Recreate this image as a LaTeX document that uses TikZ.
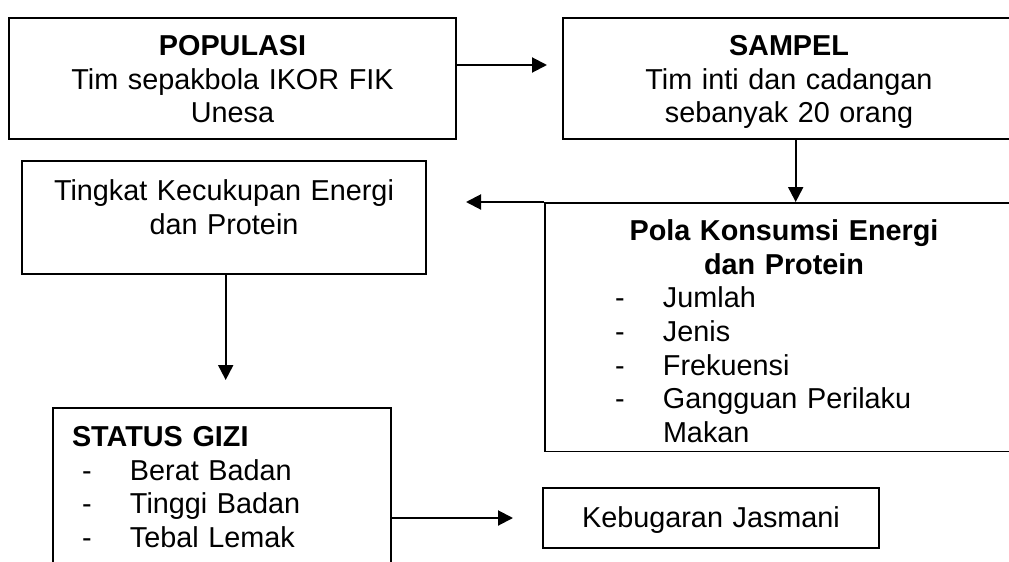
\documentclass[tikz,border=0pt]{standalone}
\usepackage{fontspec}
\setmainfont{Liberation Sans}
\usepackage{tikz}
\usetikzlibrary{arrows.meta, positioning}
% dash item with fixed indent
\newcommand{\poin}[2]{\hspace*{#1}\makebox[#2][l]{-}}

\begin{document}
\begin{tikzpicture}[x=1pt, y=-1pt,
  box/.style={draw=black, line width=1.5pt, anchor=north, inner sep=0pt,
              font=\fontsize{28.8}{33.6}\selectfont},
  arr/.style={-{Triangle[length=15pt, width=15pt]}, line width=2pt}]
\clip (0,0) rectangle (1009,562);
% Populasi box
\node[box, text width=447pt, align=center, text height=38pt, text depth=83pt]
  (pop) at (232.5,17) {\textbf{POPULASI}\\Tim sepakbola IKOR FIK\\Unesa};
% Sampel box
\node[box, text width=452pt, align=center, text height=38pt, text depth=83pt]
  (samp) at (789,17) {\textbf{SAMPEL}\\Tim inti dan cadangan\\sebanyak 20 orang};
% Tingkat kecukupan box
\node[box, text width=404pt, align=center, text height=40pt, text depth=73pt]
  (tingkat) at (224,160) {Tingkat Kecukupan Energi\\dan Protein};
% Pola konsumsi box
\node[box, text width=478pt, align=left, text height=38pt, text depth=210.5pt]
  (pola) at (784,202) {
    {\centering\bfseries Pola Konsumsi Energi\\dan Protein\par}
    \poin{70pt}{48pt}Jumlah\\
    \poin{70pt}{48pt}Jenis\\
    \poin{70pt}{48pt}Frekuensi\\
    \poin{70pt}{48pt}Gangguan Perilaku\\
    \hspace*{118pt}Makan
  };
% Status gizi box
\node[box, text width=338pt, align=left, text height=39pt, text depth=200pt]
  (status) at (222,407) {
    \hspace*{19pt}\textbf{STATUS GIZI}\\
    \poin{29pt}{48pt}Berat Badan\\
    \poin{29pt}{48pt}Tinggi Badan\\
    \poin{29pt}{48pt}Tebal Lemak
  };
% Kebugaran box
\node[box, text width=336pt, align=center, text height=40pt, text depth=20pt]
  (bugar) at (711,487) {Kebugaran Jasmani};
% Arrows
\coordinate (popTip) at (547,65);
\coordinate (sampX) at (795.7,0);
\coordinate (polaTip) at (466,202);
\coordinate (tingTip) at (225.7,380);
\coordinate (giziTip) at (513,518);
\draw[arr] (pop.east |- popTip) -- (popTip);
\draw[arr] (samp.south -| sampX) -- (pola.north -| sampX);
\draw[arr] (pola.north west) -- (polaTip);
\draw[arr] (tingkat.south -| tingTip) -- (tingTip);
\draw[arr] (status.east |- giziTip) -- (giziTip);
\end{tikzpicture}
\end{document}
